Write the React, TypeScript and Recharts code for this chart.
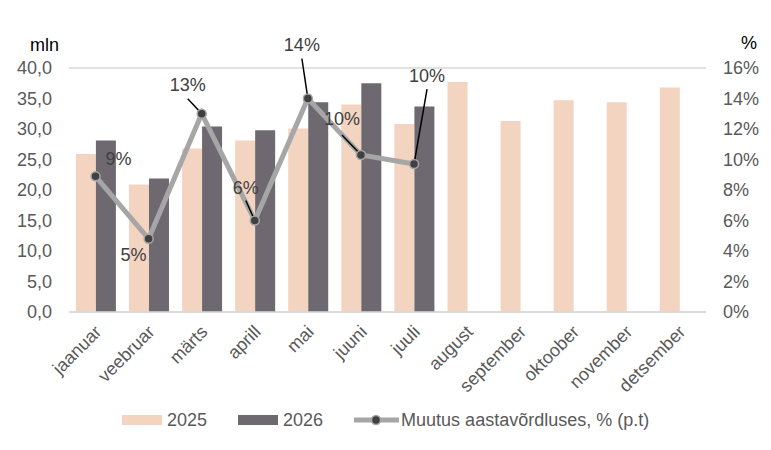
import React from "react";
import {
  Bar,
  CartesianGrid,
  ComposedChart,
  LabelList,
  Legend,
  Line,
  XAxis,
  YAxis,
} from "recharts";

const months = [
  "jaanuar",
  "veebruar",
  "märts",
  "aprill",
  "mai",
  "juuni",
  "juuli",
  "august",
  "september",
  "oktoober",
  "november",
  "detsember",
];

// mln
const values2025 = [25.9, 20.9, 26.8, 28.1, 30.1, 34.0, 30.8, 37.7, 31.3, 34.7, 34.4, 36.8];
const values2026 = [28.1, 21.9, 30.4, 29.8, 34.4, 37.5, 33.7, null, null, null, null, null];
// %
const changeYoY = [8.9, 4.8, 13.0, 6.0, 14.0, 10.3, 9.7, null, null, null, null, null];

const leftTicks = [0, 5, 10, 15, 20, 25, 30, 35, 40];
const rightTicks = [0, 2, 4, 6, 8, 10, 12, 14, 16];

// where each % label sits relative to its point, and whether it gets a leader line
const labelPlacement = [
  { dx: 23, dy: -17, lead: 0 },
  { dx: -15, dy: 16, lead: 0 },
  { dx: -14, dy: -29, lead: 14 },
  { dx: -9, dy: -33, lead: 13 },
  { dx: -6, dy: -54, lead: 14 },
  { dx: -19, dy: -36, lead: 16 },
  { dx: 13, dy: -88, lead: 13 },
];

const data = months.map((month, i) => ({
  month,
  y2025: values2025[i],
  y2026: values2026[i],
  change: changeYoY[i],
}));

const FONT = "'Liberation Sans', Arial, sans-serif";
const C2025 = "#f3d4c1";
const C2026 = "#6e6970";
const CLINE = "#a6a6a6";
const TEXT = "#595959";

const MonthTick = (props: any) => {
  const { x, y, payload } = props;
  return (
    <g transform={`translate(${x + 7},${y + 13})`}>
      <text textAnchor="end" fill={TEXT} fontSize={18} fontFamily={FONT} transform="rotate(-45)">
        {payload.value}
      </text>
    </g>
  );
};

const ChangeLabel = (props: any) => {
  const { x, y, value, index } = props;
  const p = labelPlacement[index];
  if (value == null || !p) return null;
  const tx = x + p.dx;
  const ty = y + p.dy;
  let leader = null;
  if (p.lead) {
    const sx = tx;
    const sy = ty + p.lead;
    const len = Math.hypot(x - sx, y - sy);
    const ex = x - ((x - sx) / len) * 5;
    const ey = y - ((y - sy) / len) * 5;
    leader = <line x1={sx} y1={sy} x2={ex} y2={ey} stroke="#000" strokeWidth={1.5} />;
  }
  return (
    <g>
      {leader}
      <text
        x={tx}
        y={ty}
        textAnchor="middle"
        dominantBaseline="central"
        fill="#404040"
        fontSize={18}
        fontFamily={FONT}
      >
        {`${Math.round(value)}%`}
      </text>
    </g>
  );
};

const LegendContent = (props: any) => {
  const { payload = [] } = props;
  return (
    <div
      style={{
        display: "flex",
        alignItems: "center",
        height: 22,
        paddingLeft: 122,
        fontFamily: FONT,
        fontSize: 18,
        color: TEXT,
      }}
    >
      {payload.map((entry: any, i: number) => (
        <div key={i} style={{ display: "flex", alignItems: "center", marginRight: 31 }}>
          {entry.type === "line" ? (
            <svg width={45} height={12} style={{ marginRight: 2 }}>
              <line x1={0} y1={6} x2={45} y2={6} stroke={CLINE} strokeWidth={5} />
              <circle cx={22} cy={6} r={4.5} fill="#404040" stroke={CLINE} strokeWidth={1.5} />
            </svg>
          ) : (
            <div style={{ width: 40, height: 10, background: entry.color, marginRight: 5 }} />
          )}
          <span>{entry.value}</span>
        </div>
      ))}
    </div>
  );
};

export default function App() {
  return (
    <div style={{ position: "absolute", left: 0, top: 0, width: 771, height: 450, background: "#fff" }}>
      <ComposedChart
        width={771}
        height={450}
        data={data}
        margin={{ top: 68, right: 0, bottom: 0, left: 0 }}
        barCategoryGap="13%"
        barGap={0}
      >
        <CartesianGrid vertical={false} stroke="#d9d9d9" strokeWidth={1.5} />
        <XAxis
          dataKey="month"
          interval={0}
          height={138}
          tick={<MonthTick />}
          tickLine={false}
          axisLine={{ stroke: "#d9d9d9", strokeWidth: 1.5 }}
        />
        <YAxis
          yAxisId="left"
          width={69}
          domain={[0, 40]}
          ticks={leftTicks}
          tickFormatter={(v: number) => v.toFixed(1).replace(".", ",")}
          tick={{ fill: TEXT, fontSize: 18, fontFamily: FONT }}
          tickLine={false}
          axisLine={false}
          tickSize={0}
          tickMargin={17}
          label={{ value: "mln", position: "insideTopLeft", dx: 25, dy: -35, fill: "#000", fontSize: 18, fontFamily: FONT }}
        />
        <YAxis
          yAxisId="right"
          orientation="right"
          width={65}
          domain={[0, 16]}
          ticks={rightTicks}
          tickFormatter={(v: number) => `${v}%`}
          tick={{ fill: TEXT, fontSize: 18, fontFamily: FONT, textAnchor: "start" }}
          tickLine={false}
          axisLine={false}
          tickSize={0}
          tickMargin={17}
          label={{ value: "%", position: "insideTopLeft", dx: 30, dy: -37, fill: "#000", fontSize: 18, fontFamily: FONT }}
        />
        <Legend
          verticalAlign="middle"
          align="center"
          layout="horizontal"
          wrapperStyle={{ top: 409, left: 0, width: 771 }}
          content={<LegendContent />}
        />
        <Bar yAxisId="left" dataKey="y2025" name="2025" fill={C2025} legendType="rect" isAnimationActive={false} />
        <Bar yAxisId="left" dataKey="y2026" name="2026" fill={C2026} legendType="rect" isAnimationActive={false} />
        <Line
          yAxisId="right"
          dataKey="change"
          name="Muutus aastavõrdluses, % (p.t)"
          stroke={CLINE}
          strokeWidth={5}
          legendType="line"
          dot={{ r: 4.5, fill: "#404040", stroke: CLINE, strokeWidth: 1.5 }}
          activeDot={false}
          isAnimationActive={false}
        >
          <LabelList dataKey="change" content={<ChangeLabel />} />
        </Line>
      </ComposedChart>
    </div>
  );
}
